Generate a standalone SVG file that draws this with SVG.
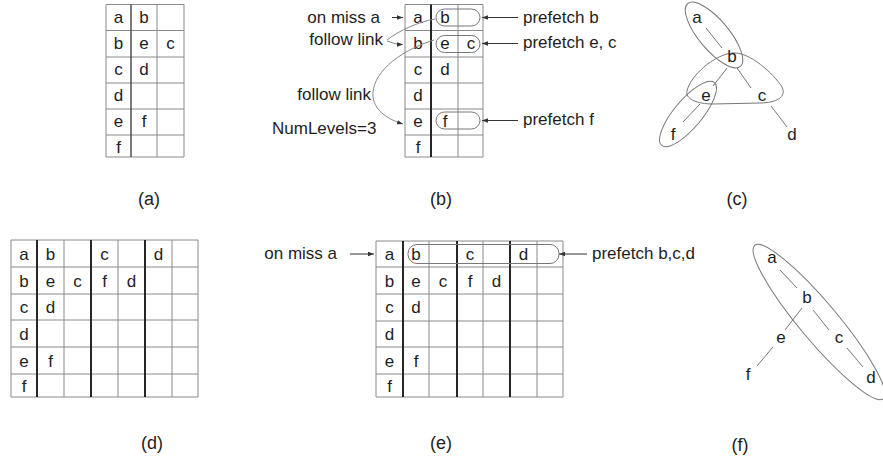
<svg xmlns="http://www.w3.org/2000/svg" width="883" height="463" viewBox="0 0 883 463">
<defs>
<style>
text{font-family:"Liberation Sans",Arial,sans-serif;font-size:17px;fill:#1e1e1e}
.c{text-anchor:middle}
.e{text-anchor:end}
.cap{font-size:18px;text-anchor:middle}
.g{stroke:#8a8a8a;stroke-width:1;fill:none}
.t{stroke:#262626;stroke-width:2;fill:none}
.t1{stroke:#444;stroke-width:1.4;fill:none}
.ln{stroke:#777;stroke-width:1;fill:none}
.bx{stroke:#777;stroke-width:1;fill:none}
.ar{stroke:#333;stroke-width:1;fill:none;marker-end:url(#ah)}
.cv{stroke:#888;stroke-width:1;fill:none}
</style>
<marker id="ah" markerWidth="6" markerHeight="6" refX="6" refY="3" orient="auto" markerUnits="userSpaceOnUse">
<path d="M0,0.8 L6,3 L0,5.2 z" fill="#333"/>
</marker>
</defs>

<!-- (a) -->
<g id="table-a">
<path class="g" d="M106,4.5H184V157H106Z M157,4.5V157 M106,30.5H184 M106,57H184 M106,83H184 M106,109H184 M106,135H184"/>
<path class="t1" d="M131,4.5V157"/>
<text class="c" x="118.5" y="23">a</text><text class="c" x="144" y="23">b</text>
<text class="c" x="118.5" y="49">b</text><text class="c" x="144" y="49">e</text><text class="c" x="170.5" y="49">c</text>
<text class="c" x="118.5" y="75">c</text><text class="c" x="144" y="75">d</text>
<text class="c" x="118.5" y="101">d</text>
<text class="c" x="118.5" y="127">e</text><text class="c" x="144" y="127">f</text>
<text class="c" x="118.5" y="153">f</text>
<text class="cap" x="149" y="205">(a)</text>
</g>

<!-- (b) -->
<g id="table-b">
<path class="g" d="M405,4.5H483V157H405Z M458,4.5V157 M405,30.5H483 M405,57H483 M405,83H483 M405,109H483 M405,135H483"/>
<path class="t" d="M431,4.5V157"/>
<text class="c" x="418" y="23">a</text><text class="c" x="445" y="23">b</text>
<text class="c" x="418" y="49">b</text><text class="c" x="445" y="49">e</text><text class="c" x="471" y="49">c</text>
<text class="c" x="418" y="75">c</text><text class="c" x="445" y="75">d</text>
<text class="c" x="418" y="101">d</text>
<text class="c" x="418" y="127">e</text><text class="c" x="445" y="127">f</text>
<text class="c" x="418" y="153">f</text>
<rect class="bx" x="436" y="9" width="44" height="17" rx="8.5"/>
<rect class="bx" x="436" y="35.5" width="44" height="17" rx="8.5"/>
<rect class="bx" x="436" y="112" width="44" height="17" rx="8.5"/>
<text class="e" x="380" y="23">on miss a</text>
<text class="e" x="383" y="45">follow link</text>
<text class="e" x="371" y="100">follow link</text>
<text x="272" y="134">NumLevels=3</text>
<text x="523" y="23">prefetch b</text>
<text x="523" y="48">prefetch e, c</text>
<text x="523" y="125">prefetch f</text>
<text class="cap" x="441" y="205">(b)</text>
</g>

<!-- (c) -->
<g id="graph-c">
<path class="ln" d="M706,28L722,48 M727,68L713,86 M737,68L751,88 M700,104L683,122 M771,106L787,127"/>
<ellipse class="bx" cx="714" cy="35" rx="41" ry="15" transform="rotate(50 714 35)"/>
<ellipse class="bx" cx="688" cy="114" rx="41" ry="14" transform="rotate(-50 688 114)"/>
<path class="bx" d="M687,91 C690,76 714,55 732,53 C749,51 774,74 782,87 C787,97 776,103 760,103 L713,104 C697,104 685,99 687,91 Z"/>
<text class="c" x="697" y="23">a</text>
<text class="c" x="732" y="62">b</text>
<text class="c" x="706" y="101">e</text>
<text class="c" x="762" y="101">c</text>
<text class="c" x="673" y="140">f</text>
<text class="c" x="792" y="140">d</text>
<text class="cap" x="737" y="205">(c)</text>
</g>

<!-- (d) -->
<g id="table-d">
<path class="g" d="M11,240H198V397H11Z M64,240V397 M118,240V397 M172,240V397 M11,267H198 M11,294H198 M11,320H198 M11,347H198 M11,374H198"/>
<path class="t" d="M37,240V397 M91,240V397 M145,240V397"/>
<text class="c" x="24" y="260">a</text><text class="c" x="50.5" y="260">b</text><text class="c" x="104.5" y="260">c</text><text class="c" x="158.5" y="260">d</text>
<text class="c" x="24" y="287">b</text><text class="c" x="50.5" y="287">e</text><text class="c" x="77.5" y="287">c</text><text class="c" x="104.5" y="287">f</text><text class="c" x="131.5" y="287">d</text>
<text class="c" x="24" y="313">c</text><text class="c" x="50.5" y="313">d</text>
<text class="c" x="24" y="340">d</text>
<text class="c" x="24" y="367">e</text><text class="c" x="50.5" y="367">f</text>
<text class="c" x="24" y="392">f</text>
<text class="cap" x="152" y="449">(d)</text>
</g>

<!-- (e) -->
<g id="table-e">
<path class="g" d="M376,241H563V397H376Z M429,241V397 M483,241V397 M537,241V397 M376,267H563 M376,294H563 M376,321H563 M376,347H563 M376,374H563"/>
<path class="t" d="M403,241V397 M457,241V397 M510,241V397"/>
<text class="c" x="389.5" y="260">a</text><text class="c" x="416" y="260">b</text><text class="c" x="470" y="260">c</text><text class="c" x="523.5" y="260">d</text>
<text class="c" x="389.5" y="287">b</text><text class="c" x="416" y="287">e</text><text class="c" x="443" y="287">c</text><text class="c" x="470" y="287">f</text><text class="c" x="496.5" y="287">d</text>
<text class="c" x="389.5" y="313">c</text><text class="c" x="416" y="313">d</text>
<text class="c" x="389.5" y="340">d</text>
<text class="c" x="389.5" y="367">e</text><text class="c" x="416" y="367">f</text>
<text class="c" x="389.5" y="392">f</text>
<rect class="bx" x="408" y="244.5" width="151" height="19" rx="9"/>
<text class="e" x="337" y="259">on miss a</text>
<text x="592" y="259">prefetch b,c,d</text>
<text class="cap" x="441" y="449">(e)</text>
</g>

<!-- (f) -->
<g id="graph-f">
<path class="ln" d="M780,270L797,288 M802,308L785,330 M773,347L757,366 M813,310L829,330 M847,348L863,367"/>
<ellipse class="bx" cx="819" cy="322" rx="100" ry="19" transform="rotate(50 819 322)"/>
<text class="c" x="772" y="263">a</text>
<text class="c" x="807" y="303">b</text>
<text class="c" x="781" y="343">e</text>
<text class="c" x="839" y="343">c</text>
<text class="c" x="748" y="380">f</text>
<text class="c" x="871" y="383">d</text>
<text class="cap" x="740" y="451">(f)</text>
</g>

<g id="connectors">
<path class="ar" d="M392,17.5H403"/>
<path class="ar" d="M518,17.5H482"/>
<path class="ar" d="M518,43.5H482"/>
<path class="ar" d="M518,120.5H482"/>
<path class="cv" d="M387,40 C400,30 418,22 435,19"/>
<path class="ar" d="M387,41 Q395,44.5 403,44.5" style="stroke:#888"/>
<path class="ar" d="M434,40 C396,52 371,75 373,97 C375,112 390,120 403,124" style="stroke:#888"/>
<path class="ar" d="M350,254H374"/>
<path class="ar" d="M587,254H559"/>
</g>
</svg>
